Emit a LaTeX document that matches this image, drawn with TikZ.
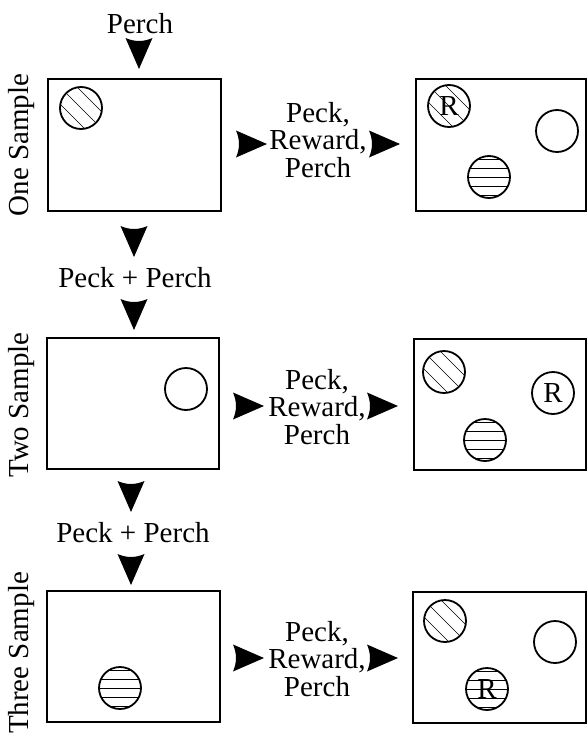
\documentclass[tikz,border=0pt]{standalone}
\usepackage{fontspec}
\setmainfont{Liberation Serif}
\begin{document}
\begin{tikzpicture}[x=1pt,y=-1pt,
  every node/.style={font=\fontsize{29}{27.5}\selectfont, inner sep=0pt},
  panel/.style={draw, line width=2.2pt, fill=white},
  disk/.style={circle, draw, line width=1.8pt, minimum size=42pt, inner sep=0pt},
  diaghatch/.style={disk, path picture={
     \draw[line width=0.5pt] (path picture bounding box.center) +(-29.7,-12.7) -- +(12.7,29.7);
     \draw[line width=0.5pt] (path picture bounding box.center) +(-21.2,-21.2) -- +(21.2,21.2);
     \draw[line width=0.5pt] (path picture bounding box.center) +(-12.7,-29.7) -- +(29.7,12.7);}},
  horzhatch/.style={disk, path picture={
     \foreach \d in {-18,-9,0,9,18}
       \draw[line width=0.6pt] (path picture bounding box.center) +(-25,\d) -- +(25,\d);}},
  tri/.pic={\fill (0,0) -- (-31,-13.5) .. controls (-27,-4) and (-27,4) .. (-31,13.5) -- cycle;},
  vlabel/.style={rotate=90, anchor=base},
  steptext/.style={align=center}
]
\useasboundingbox (0,0) rectangle (587,736);

% panels
\draw[panel] (48,79) rectangle (221,211);
\draw[panel] (416,79) rectangle (585.9,211);
\draw[panel] (47,338) rectangle (219,469);
\draw[panel] (414,339) rectangle (585.9,470);
\draw[panel] (47,591) rectangle (220,722);
\draw[panel] (413,592) rectangle (585.9,723);

% side labels
\node[vlabel] (one) at (28.5,145) {One Sample};
\node[vlabel] (two) at (28.5,405) {Two Sample};
\node[vlabel] (three) at (28.5,653) {Three Sample};

% top
\node[anchor=base] (perch) at (140,33) {Perch};
\pic[rotate=-90] (a0) at (139,69) {tri};

% vertical flow
\pic[rotate=-90] (a1) at (134,257) {tri};
\node[anchor=base] (pp1) at (135,287) {Peck + Perch};
\pic[rotate=-90] (a2) at (134,330) {tri};
\pic[rotate=-90] (a3) at (131,512) {tri};
\node[anchor=base] (pp2) at (133,542) {Peck + Perch};
\pic[rotate=-90] (a4) at (131,585) {tri};

% horizontal flow
\pic (b1) at (267,144) {tri};
\node[steptext] (t1) at (318,140) {Peck,\\Reward,\\Perch};
\pic (c1) at (400,144) {tri};
\pic (b2) at (264,406) {tri};
\node[steptext] (t2) at (317,407) {Peck,\\Reward,\\Perch};
\pic (c2) at (398,406) {tri};
\pic (b3) at (264,658) {tri};
\node[steptext] (t3) at (317,659) {Peck,\\Reward,\\Perch};
\pic (c3) at (398,658) {tri};

% row 1
\node[diaghatch] (s1) at (81,108) {};
\node[diaghatch] (r1a) at (449,106) {R};
\node[disk] (r1b) at (557,131) {};
\node[horzhatch] (r1c) at (489,177) {};

% row 2
\node[disk] (s2) at (186,389) {};
\node[diaghatch] (r2a) at (444,372) {};
\node[disk] (r2b) at (553,393) {R};
\node[horzhatch] (r2c) at (485,440) {};

% row 3
\node[horzhatch] (s3) at (120,688) {};
\node[diaghatch] (r3a) at (445,621) {};
\node[disk] (r3b) at (555,642) {};
\node[horzhatch] (r3c) at (487,689) {R};
\end{tikzpicture}
\end{document}
